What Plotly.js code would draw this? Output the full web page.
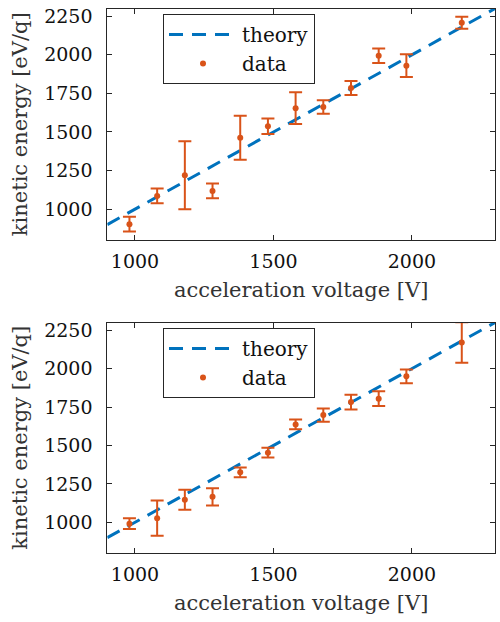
<!DOCTYPE html>
<html>
<head>
<meta charset="utf-8">
<script src="https://cdn.plot.ly/plotly-3.0.1.min.js"></script>
<style>html,body{margin:0;padding:0;background:#fff}#chart{width:500px;height:622px}</style>
</head>
<body>
<div id="chart"></div>
<script>
// Data
const theoryX = [900, 2300];
const theoryY = [900, 2300];

const voltage1 = [980, 1080, 1180, 1280, 1380, 1480, 1580, 1680, 1780, 1880, 1980, 2180];
const energy1  = [903, 1086, 1220, 1118, 1463, 1537, 1654, 1662, 1785, 1994, 1930, 2208];
const error1   = [48, 48, 220, 48, 143, 50, 103, 44, 46, 47, 73, 39];

const voltage2 = [980, 1080, 1180, 1280, 1380, 1480, 1580, 1680, 1780, 1880, 1980, 2180];
const energy2  = [991, 1027, 1146, 1166, 1325, 1453, 1637, 1698, 1782, 1804, 1950, 2170];
const error2   = [35, 114, 65, 56, 32, 32, 32, 43, 48, 48, 45, 132];

const xTicks = [1000, 1500, 2000];
const yTicks = [1000, 1250, 1500, 1750, 2000, 2250];

const BLUE = '#0072BD';
const ORANGE = '#D95319';
const FONT = 'DejaVu Serif';

function theoryTrace(xa, ya, lg) {
  return {
    x: theoryX, y: theoryY, xaxis: xa, yaxis: ya, legend: lg,
    type: 'scatter', mode: 'lines', name: 'theory',
    line: {color: BLUE, width: 3, dash: '14px,9px'}
  };
}
function dataTrace(x, y, e, xa, ya, lg) {
  return {
    x: x, y: y, xaxis: xa, yaxis: ya, legend: lg,
    type: 'scatter', mode: 'markers', name: 'data',
    marker: {color: ORANGE, size: 6},
    error_y: {type: 'data', array: e, visible: true, color: ORANGE, thickness: 2, width: 6.5}
  };
}

const traces = [
  theoryTrace('x', 'y', 'legend'),
  dataTrace(voltage1, energy1, error1, 'x', 'y', 'legend'),
  theoryTrace('x2', 'y2', 'legend2'),
  dataTrace(voltage2, energy2, error2, 'x2', 'y2', 'legend2')
];

function xAxis(anchor) {
  return {
    domain: [0.2146, 0.99], anchor: anchor, range: [900, 2300],
    tickvals: xTicks, ticktext: xTicks.map(String),
    ticks: 'inside', ticklen: 5, tickcolor: '#262626', tickwidth: 1,
    showline: true, linecolor: '#262626', linewidth: 1, mirror: 'ticks',
    showgrid: false, zeroline: false, automargin: false,
    tickfont: {family: FONT, size: 19, color: '#111'},
    ticklabelstandoff: 4,
    title: {text: 'acceleration voltage [V]', font: {family: FONT, size: 21, color: '#333'}, standoff: 11}
  };
}
function yAxis(dom, anchor) {
  return {
    domain: dom, anchor: anchor, range: [800, 2300],
    tickvals: yTicks, ticktext: yTicks.map(String),
    ticks: 'inside', ticklen: 5, tickcolor: '#262626', tickwidth: 1,
    showline: true, linecolor: '#262626', linewidth: 1, mirror: 'ticks',
    showgrid: false, zeroline: false, automargin: false,
    tickfont: {family: FONT, size: 19, color: '#111'},
    ticklabelstandoff: 10,
    title: {text: 'kinetic energy [eV/q]', font: {family: FONT, size: 21, color: '#333'}, standoff: 10}
  };
}

function legendBox(y) {
  return {
    x: 0.326, y: y, xanchor: 'left', yanchor: 'top',
    bgcolor: '#fff', bordercolor: '#262626', borderwidth: 1,
    font: {family: FONT, size: 20, color: '#111'},
    itemwidth: 68, tracegroupgap: 0
  };
}

const layout = {
  width: 500, height: 622,
  margin: {l: 0, r: 0, t: 0, b: 0},
  paper_bgcolor: '#fff', plot_bgcolor: '#fff',
  showlegend: true,
  xaxis: xAxis('y'),
  yaxis: yAxis([0.6141, 0.9863], 'x'),
  xaxis2: xAxis('y2'),
  yaxis2: yAxis([0.1109, 0.4815], 'x2'),
  legend: legendBox(0.9775),
  legend2: legendBox(0.4727)
};

Plotly.newPlot('chart', traces, layout, {displayModeBar: false, staticPlot: true});
</script>
</body>
</html>
